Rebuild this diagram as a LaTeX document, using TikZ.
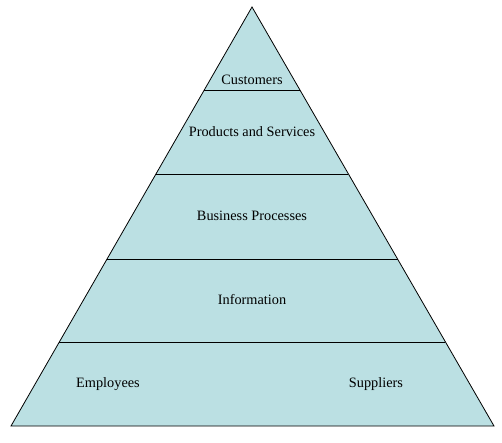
\documentclass[tikz,border=0pt]{standalone}
\usepackage{fontspec}
\setmainfont{Liberation Serif}
\usetikzlibrary{calc,positioning}

\definecolor{pyrfill}{HTML}{BBE0E3}
\tikzset{layer/.style={font=\fontsize{14.3}{16}\selectfont, inner sep=1pt}}

\begin{document}
\begin{tikzpicture}[x=1pt,y=-1pt]

        \useasboundingbox (0,0) rectangle (502,443);

        \coordinate (apex) at (252,7);
        \coordinate (bl) at (11,426);
        \coordinate (br) at (494,426);

        \draw [fill=pyrfill, line width=0.8pt] (apex) -- (br) -- (bl) -- cycle;

        % dividing lines
        \foreach \y/\n in {90/a,174/b,259/c,342/d} {
            \coordinate (l\n) at ($(apex)!{(\y-7)/419}!(bl)$);
            \coordinate (r\n) at ($(apex)!{(\y-7)/419}!(br)$);
            \draw [line width=0.8pt] (l\n) -- (r\n);
        }

        \node [layer] (cust) at (252,80) {Customers};
        \node [layer] (prod) at (252,132) {Products and Services};
        \node [layer] (bus) at (252,216) {Business Processes};
        \node [layer] (info) at (252,300) {Information};
        \node [layer] (emp) at (108,384) {Employees};
        \node [layer] (sup) at (376,384) {Suppliers};

\end{tikzpicture}
\end{document}
